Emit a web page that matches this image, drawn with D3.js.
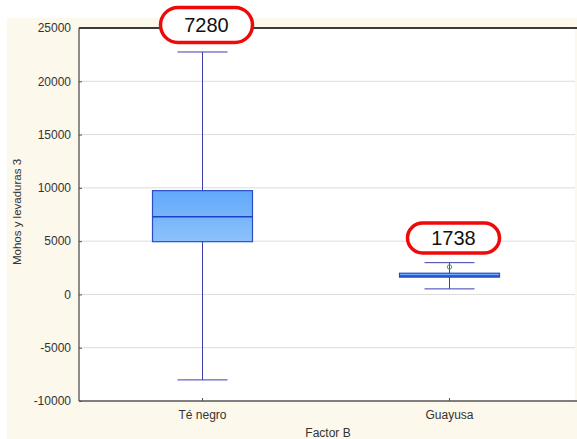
<!DOCTYPE html>
<html>
<head>
<meta charset="utf-8">
<script src="https://cdn.jsdelivr.net/npm/d3@7"></script>
<style>
  html, body { margin: 0; padding: 0; background: #ffffff; }
  svg { display: block; }
  text { font-family: Arial, "Liberation Sans", sans-serif; }
</style>
</head>
<body>
<svg id="chart" width="577" height="439"></svg>
<script>
// Box-plot summary per category
const categories = ["Té negro", "Guayusa"];
const whiskerLow = [-8020, 520];
const q1 = [4950, 1620];
const median = [7280, 1738];
const q3 = [9740, 1990];
const whiskerHigh = [22750, 2980];
const outliers = [[], [2580]];
const yTicks = [-10000, -5000, 0, 5000, 10000, 15000, 20000, 25000];
const calloutLabels = ["7280", "1738"];

const svg = d3.select("#chart");
const W = 577, H = 439;
const margin = { left: 79, right: 2, top: 28, bottom: 38 };
const x0 = margin.left, x1 = W - margin.right;
const y0 = margin.top, y1 = H - margin.bottom;

// cream panel
svg.append("rect").attr("x", 7).attr("y", 18).attr("width", W - 7).attr("height", H - 18)
  .attr("fill", "#fcf8ec");
// white plot area
svg.append("rect").attr("x", x0).attr("y", y0).attr("width", x1 - x0).attr("height", y1 - y0)
  .attr("fill", "#ffffff");

const y = d3.scaleLinear().domain([-10000, 25000]).range([y1, y0]);
const x = d3.scaleBand().domain(categories).range([x0, x1 - 2]).padding(0);

const defs = svg.append("defs");
const grad = defs.append("linearGradient").attr("id", "boxFill")
  .attr("x1", 0).attr("y1", 0).attr("x2", 0).attr("y2", 1);
grad.append("stop").attr("offset", "0%").attr("stop-color", "#62a8fb");
grad.append("stop").attr("offset", "100%").attr("stop-color", "#8cc2fa");

// gridlines
svg.append("g").selectAll("line").data(yTicks.filter(t => t > -10000 && t < 25000)).join("line")
  .attr("x1", x0).attr("x2", x1).attr("y1", d => y(d)).attr("y2", d => y(d))
  .attr("stroke", "#dcdcdc").attr("stroke-width", 1);

// y axis (plain hyphen for negatives)
const yAxis = svg.append("g").attr("transform", `translate(${x0},0)`)
  .call(d3.axisLeft(y).tickValues(yTicks).tickSize(-3).tickPadding(8).tickFormat(d => String(d)));
yAxis.select(".domain").remove();
yAxis.selectAll(".tick line").attr("stroke", "#555");
yAxis.selectAll("text").attr("font-size", 12).attr("fill", "#333");

// x axis
const xAxis = svg.append("g").attr("transform", `translate(0,${y1})`)
  .call(d3.axisBottom(x).tickSize(-3).tickPadding(9));
xAxis.select(".domain").remove();
xAxis.selectAll(".tick line").attr("stroke", "#555");
xAxis.selectAll("text").attr("font-size", 12).attr("fill", "#333");

// frame lines
svg.append("line").attr("x1", x0).attr("x2", x0).attr("y1", y0).attr("y2", y1)
  .attr("stroke", "#444").attr("stroke-width", 1.2);
svg.append("line").attr("x1", x0).attr("x2", W).attr("y1", y1).attr("y2", y1)
  .attr("stroke", "#555").attr("stroke-width", 1.5);
svg.append("line").attr("x1", x0).attr("x2", W).attr("y1", y0).attr("y2", y0)
  .attr("stroke", "#3a3a3a").attr("stroke-width", 2);

// boxes
const boxW = 100, capW = 50;
const groups = svg.append("g").selectAll("g").data(categories).join("g")
  .attr("transform", d => `translate(${x(d) + x.bandwidth() / 2},0)`);

groups.append("line")
  .attr("x1", 0).attr("x2", 0)
  .attr("y1", (d, i) => y(whiskerHigh[i])).attr("y2", (d, i) => y(whiskerLow[i]))
  .attr("stroke", "#3d3db0").attr("stroke-width", 1);
groups.append("line")
  .attr("x1", -capW / 2).attr("x2", capW / 2)
  .attr("y1", (d, i) => y(whiskerHigh[i])).attr("y2", (d, i) => y(whiskerHigh[i]))
  .attr("stroke", "#3d3db0").attr("stroke-width", 1);
groups.append("line")
  .attr("x1", -capW / 2).attr("x2", capW / 2)
  .attr("y1", (d, i) => y(whiskerLow[i])).attr("y2", (d, i) => y(whiskerLow[i]))
  .attr("stroke", "#3d3db0").attr("stroke-width", 1);
groups.append("rect")
  .attr("x", -boxW / 2).attr("width", boxW)
  .attr("y", (d, i) => y(q3[i])).attr("height", (d, i) => y(q1[i]) - y(q3[i]))
  .attr("fill", "url(#boxFill)").attr("stroke", "#2a4cc8").attr("stroke-width", 1.2);
groups.append("line")
  .attr("x1", -boxW / 2).attr("x2", boxW / 2)
  .attr("y1", (d, i) => y(median[i])).attr("y2", (d, i) => y(median[i]))
  .attr("stroke", "#1f3fc4").attr("stroke-width", 1.5);
groups.each(function (d, i) {
  d3.select(this).selectAll("circle.out").data(outliers[i]).join("circle")
    .attr("class", "out").attr("cx", 0).attr("cy", v => y(v)).attr("r", 2.2)
    .attr("fill", "none").attr("stroke", "#5f8f6f").attr("stroke-width", 1);
});

// callouts
const callY = [25, 238];
const callH = [35, 30];
const callout = svg.append("g").selectAll("g").data(categories).join("g")
  .attr("transform", (d, i) => `translate(${x(d) + x.bandwidth() / 2 + 4},${callY[i]})`);
callout.append("rect")
  .attr("x", -46).attr("width", 92)
  .attr("y", (d, i) => -callH[i] / 2).attr("height", (d, i) => callH[i])
  .attr("rx", (d, i) => callH[i] / 2).attr("ry", (d, i) => callH[i] / 2)
  .attr("fill", "#ffffff").attr("stroke", "#ee0a0a").attr("stroke-width", 3.5);
callout.append("text")
  .attr("text-anchor", "middle").attr("dy", "0.36em")
  .attr("font-size", 20).attr("fill", "#111")
  .text((d, i) => calloutLabels[i]);

// axis titles
svg.append("text").attr("transform", "translate(21,212) rotate(-90)")
  .attr("text-anchor", "middle").attr("font-size", 11.5).attr("fill", "#333")
  .text("Mohos y levaduras 3");
svg.append("text").attr("x", 328).attr("y", 437)
  .attr("text-anchor", "middle").attr("font-size", 12).attr("fill", "#333")
  .text("Factor B");
</script>
</body>
</html>
